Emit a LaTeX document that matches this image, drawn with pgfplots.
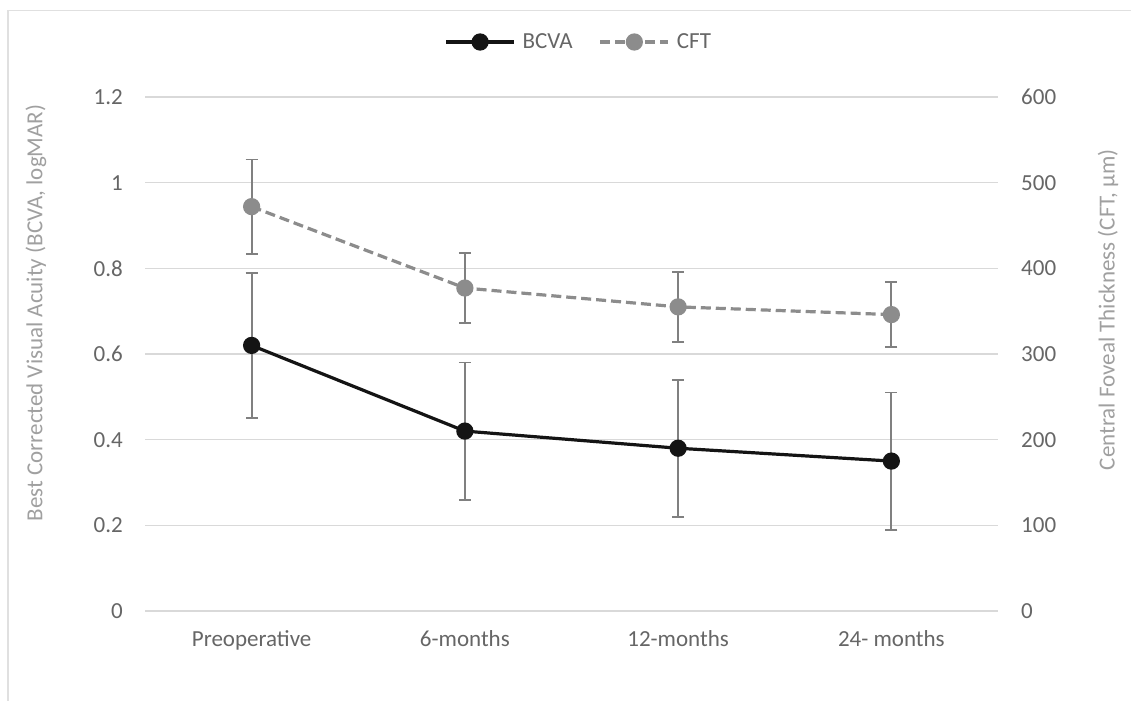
\documentclass[border=0pt]{standalone}
\usepackage{pgfplots}
\pgfplotsset{compat=1.18}
\usepackage{fontspec}
\setmainfont{Carlito}
\definecolor{gridc}{HTML}{D9D9D9}
\definecolor{tickc}{HTML}{666666}
\definecolor{titlec}{HTML}{A0A0A0}
\definecolor{bcvac}{HTML}{141414}
\definecolor{cftc}{HTML}{8C8C8C}
\definecolor{errc}{HTML}{808080}
\definecolor{framec}{HTML}{E0E0E0}
\newcommand{\fs}{\fontsize{23bp}{27bp}\selectfont}
\pgfplotsset{
  common/.style={
    scale only axis, width=853bp, height=514bp,
    at={(145bp,90bp)}, anchor=south west,
    xmin=-0.5, xmax=3.5, ymin=0,
    axis line style={draw=none}, tick style={draw=none},
    major tick length=0pt,
    tick label style={font=\fs, text=tickc, inner sep=0pt},
    /pgf/number format/.cd, fixed, assume math mode=true,
  },
  errs/.style={
    error bars/.cd, y dir=both, y explicit,
    error bar style={line width=1.8bp, draw=errc, solid},
    error mark options={rotate=90, mark size=6bp, line width=1.8bp, draw=errc, solid},
  },
}
\begin{document}
\begin{tikzpicture}
\useasboundingbox (0,0) rectangle (1131bp,701bp);
\fill[white] (0,0) rectangle (1131bp,701bp);
\draw[framec, line width=1.5bp] (8bp,0bp) -- (8bp,690.5bp) -- (1131bp,690.5bp);
\begin{axis}[common,
  ymax=1.2, ytick={0,0.2,...,1.2},
  ymajorgrids, grid style={gridc, line width=1.6bp},
  xtick={0,1,2,3},
  xticklabels={Preoperative,6-months,12-months,24- months},
  xticklabel style={anchor=base, yshift=-36bp},
  yticklabel style={anchor=east, xshift=-22bp},
  ylabel={Best Corrected Visual Acuity (BCVA, logMAR)},
  every axis y label/.style={at={(rel axis cs:-0.1278,0.58)}, rotate=90, anchor=center, font=\fs, text=titlec},
]
\addplot[bcvac, line width=3.2bp, mark=*, mark size=7bp, mark options={fill=bcvac, draw=bcvac}, errs]
  coordinates {
    (0,0.62) +- (0,0.17)
    (1,0.42) +- (0,0.16)
    (2,0.38) +- (0,0.16)
    (3,0.35) +- (0,0.16)
  };
\end{axis}
\begin{axis}[common,
  ymax=600, ytick={0,100,...,600},
  xtick=\empty,
  yticklabel pos=right,
  yticklabel style={anchor=west, xshift=23bp},
  ylabel={Central Foveal Thickness (CFT, μm)},
  every axis y label/.style={at={(rel axis cs:1.129,0.586)}, rotate=90, anchor=center, font=\fs, text=titlec},
  legend style={at={(rel axis cs:0.5085,1.107)}, anchor=center, draw=none, fill=none,
    font=\fs, text=tickc, legend columns=2, inner sep=0pt,
    /tikz/every odd column/.append style={column sep=5bp},
    /tikz/every even column/.append style={column sep=24bp}},
  legend cell align=left,
  legend image code/.code={\draw[mark repeat=2,mark phase=2,#1] plot coordinates {(0bp,0bp)(34bp,0bp)(68bp,0bp)};},
]
\addlegendimage{bcvac, line width=3.2bp, mark=*, mark size=7bp, mark options={fill=bcvac, draw=bcvac, solid}}
\addlegendentry{BCVA}
\addplot[cftc, line width=3.2bp, dash pattern=on 10bp off 5bp, mark=*, mark size=7bp, mark options={fill=cftc, draw=cftc, solid}, errs]
  coordinates {
    (0,472) +- (0,55)
    (1,377) +- (0,41)
    (2,355) +- (0,41)
    (3,346) +- (0,38)
  };
\addlegendentry{CFT}
\end{axis}
\end{tikzpicture}
\end{document}
